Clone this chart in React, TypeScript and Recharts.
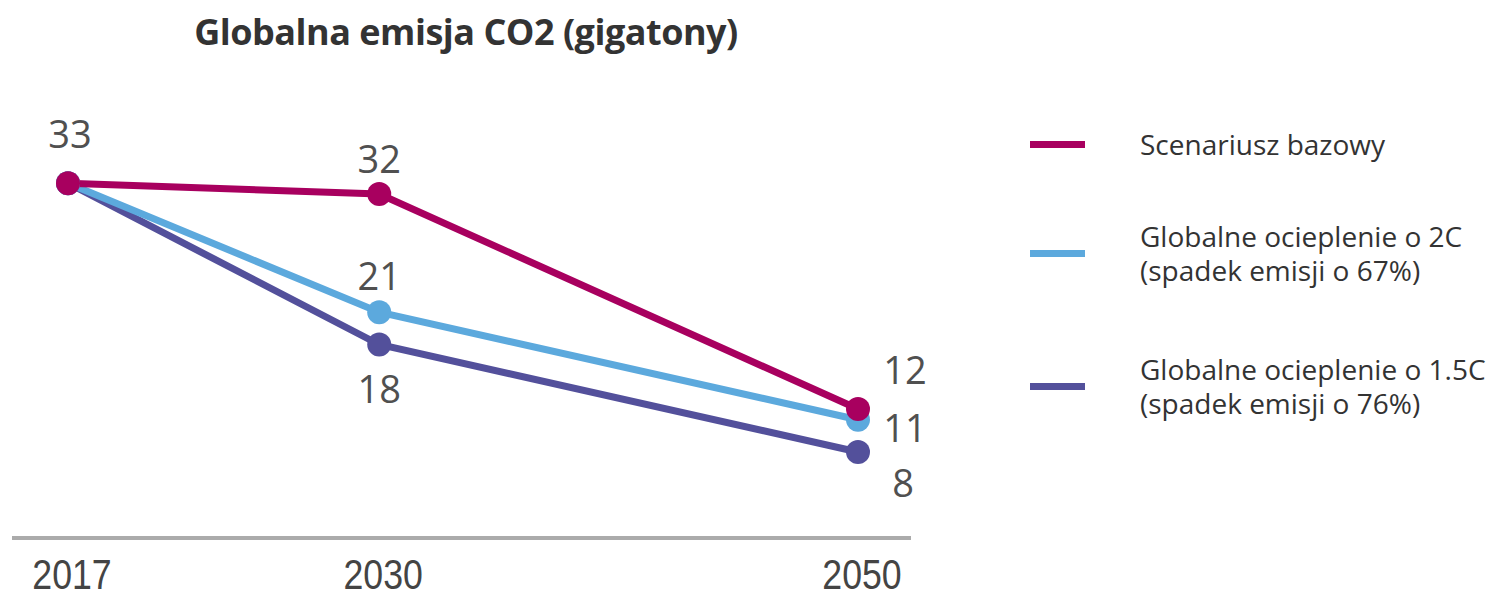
import React from "react"
import { LineChart, Line, XAxis, YAxis, Legend, LabelList } from "recharts"

const years = [2017, 2030, 2050]
const bazowy = [33, 32, 12]
const ocieplenie2C = [33, 21, 11]
const ocieplenie15C = [33, 18, 8]

const seriesNames = {
    bazowy: "Scenariusz bazowy",
    c2: "Globalne ocieplenie o 2C\n(spadek emisji o 67%)",
    c15: "Globalne ocieplenie o 1.5C\n(spadek emisji o 76%)",
}

const data = years.map((year, i) => ({
    year,
    bazowy: bazowy[i],
    c2: ocieplenie2C[i],
    c15: ocieplenie15C[i],
}))

const colors = {
    bazowy: "#A8005F",
    c2: "#5CA9DD",
    c15: "#53509B",
}

// label offsets per point (dx, dy from the dot), null = no label
const labelOffsets: Record<string, ([number, number] | null)[]> = {
    bazowy: [[2, -50], [0, -36], [47, -40]],
    c2: [null, [0, -37], [47, 7]],
    c15: [null, [0, 43], [45, 30]],
}

const makeLabel = (key: string) => (props: any) => {
    const { x, y, value, index } = props
    const off = labelOffsets[key][index]
    if (!off) return null
    return (
        <text
            x={x + off[0]}
            y={y + off[1]}
            textAnchor="middle"
            dominantBaseline="central"
            fill="#505050"
            fontSize={38}
            fontFamily="'Open Sans', sans-serif"
        >
            {value}
        </text>
    )
}

// condensed look for the year labels
const YearTick = (props: any) => {
    const { x, y, payload } = props
    return (
        <text
            transform={`translate(${x + 4}, ${y + 49}) scale(0.85, 1)`}
            textAnchor="middle"
            fill="#444"
            fontSize={42}
            fontFamily="'Liberation Sans', sans-serif"
        >
            {payload.value}
        </text>
    )
}

const legendTops = [127, 219, 352]

const renderLegend = (props: any) => {
    const items = [...(props.payload || [])].reverse()
    return (
        <div style={{ position: "relative", width: 459, height: 450 }}>
            {items.map((entry: any, i: number) => (
                <div key={entry.value} style={{ position: "absolute", top: legendTops[i], left: 0, display: "flex", alignItems: "center" }}>
                    <div style={{ width: 55, height: 7, background: entry.color, marginRight: 55 }} />
                    <div
                        style={{
                            whiteSpace: "pre-line",
                            fontFamily: "'Open Sans', sans-serif",
                            fontSize: 28,
                            lineHeight: "34px",
                            color: "#333",
                        }}
                    >
                        {entry.value}
                    </div>
                </div>
            ))}
        </div>
    )
}

export default function App() {
    return (
        <div style={{ position: "absolute", left: 0, top: 0, width: 1489, height: 597, background: "#fff" }}>
            <div
                style={{
                    position: "absolute",
                    left: 0,
                    top: 11,
                    width: 932,
                    textAlign: "center",
                    fontFamily: "'Open Sans', sans-serif",
                    fontWeight: 700,
                    fontSize: 36,
                    letterSpacing: -0.5,
                    lineHeight: "42px",
                    color: "#333",
                }}
            >
                Globalna emisja CO2 (gigatony)
            </div>
            <LineChart width={1489} height={597} data={data} margin={{ top: 108, right: 578, bottom: 9, left: 12 }}>
                <XAxis
                    dataKey="year"
                    type="number"
                    domain={["dataMin", "dataMax"]}
                    ticks={years}
                    padding={{ left: 56, right: 53 }}
                    axisLine={{ stroke: "#ababab", strokeWidth: 4 }}
                    tickLine={false}
                    tickSize={0}
                    height={50}
                    tick={<YearTick />}
                />
                <YAxis hide domain={[0, 40]} />
                <Legend
                    layout="horizontal"
                    align="center"
                    verticalAlign="middle"
                    content={renderLegend}
                    wrapperStyle={{ position: "absolute", left: 1030, top: 0, width: 459 }}
                />
                <Line
                    dataKey="c15"
                    name={seriesNames.c15}
                    stroke={colors.c15}
                    strokeWidth={7}
                    dot={{ r: 12, fill: colors.c15, stroke: "none" }}
                    isAnimationActive={false}
                >
                    <LabelList dataKey="c15" content={makeLabel("c15")} />
                </Line>
                <Line
                    dataKey="c2"
                    name={seriesNames.c2}
                    stroke={colors.c2}
                    strokeWidth={7}
                    dot={{ r: 12, fill: colors.c2, stroke: "none" }}
                    isAnimationActive={false}
                >
                    <LabelList dataKey="c2" content={makeLabel("c2")} />
                </Line>
                <Line
                    dataKey="bazowy"
                    name={seriesNames.bazowy}
                    stroke={colors.bazowy}
                    strokeWidth={7}
                    dot={{ r: 12, fill: colors.bazowy, stroke: "none" }}
                    isAnimationActive={false}
                >
                    <LabelList dataKey="bazowy" content={makeLabel("bazowy")} />
                </Line>
            </LineChart>
        </div>
    )
}
